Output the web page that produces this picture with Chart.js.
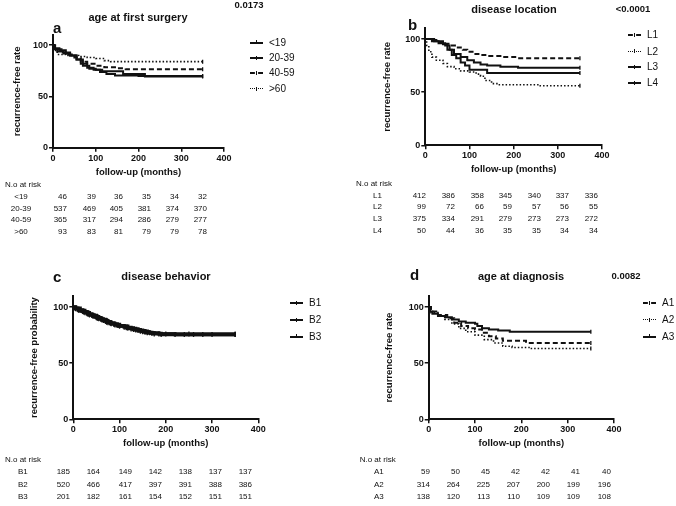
<!DOCTYPE html>
<html lang="en">
<head>
<meta charset="UTF-8">
<title>Recurrence-free survival</title>
<script src="https://cdn.jsdelivr.net/npm/chart.js"></script>
<style>
  body { margin: 0; background: #fff; }
  #page { position: relative; width: 676px; height: 506px; overflow: hidden;
          font-family: "Liberation Sans", Arial, sans-serif; color: #111; }
  #page canvas { position: absolute; left: 0; top: 0; }
  .t { position: absolute; white-space: nowrap; line-height: 1; }
  .title { font-weight: bold; font-size: 11px; }
  .letter { font-weight: bold; font-size: 15px; }
  .pval { font-weight: bold; font-size: 9.5px; }
  .leg { font-size: 10px; }
  .risk { font-size: 8px; }
  .sample { position: absolute; width: 13px; height: 0; }
  .mark { position: absolute; width: 1.3px; height: 4px; background: #111; }
</style>
</head>
<body>
<div id="page"></div>
<script>
// ---- data: survival curves [month, %] ----
// a: age at first surgery
const surgLt19 = [[0,100],[3,97],[15,95],[30,93],[40,90],[55,86],[70,80],[85,77],[100,76],[115,74.5],[164,72],[215,69.5],[350,69.5]];
const surg2039 = [[0,100],[3,96],[10,94],[25,92],[40,90],[55,86],[65,82],[80,78],[95,76],[110,74],[125,72],[145,70.5],[200,70],[350,70]];
const surg4059 = [[0,100],[5,96],[20,93],[35,91],[50,88],[65,84],[80,82],[100,80],[120,78.5],[150,77.5],[170,76.5],[350,76.5]];
const surgGt60 = [[0,100],[3,95],[10,91],[30,90],[60,89],[80,88],[100,87],[120,85],[135,84],[350,84]];
// b: disease location
const locL1 = [[0,100],[10,99],[25,97],[40,95.5],[55,94],[70,92],[85,90],[95,88],[110,86],[125,85],[140,84],[170,83],[210,82],[350,82]];
const locL2 = [[0,100],[3,94],[8,88],[15,83],[25,80],[40,77],[50,74],[65,72],[80,70],[100,69],[115,67],[125,65],[135,61],[150,58],[165,57],[260,56],[350,56]];
const locL3 = [[0,100],[15,98],[30,96],[45,94],[55,90],[65,86],[80,83],[95,80],[110,78],[125,76],[140,75],[170,74],[210,73],[350,73]];
const locL4 = [[0,100],[20,98],[40,95],[50,90],[60,85],[70,82],[80,78],[90,75],[100,71],[140,68],[350,68]];
// c: disease behavior
const behB1 = [[0,100],[5,99],[10,97.5],[20,96],[30,94],[40,92.5],[50,90.5],[60,89],[70,87],[80,85.5],[90,84],[100,83],[115,81.5],[130,80],[145,78.5],[160,77],[175,76],[220,75.5],[260,75.5],[300,75.5],[350,75.5]];
const behB2 = [[0,100],[5,98.5],[12,97],[22,95.5],[32,93.5],[42,92],[52,90],[62,88.5],[72,86.5],[82,85],[95,83.5],[110,82],[125,80.5],[140,79],[155,77.5],[170,76.5],[190,75.5],[240,75.5],[280,75.5],[350,75.5]];
const behB3 = [[0,100],[4,99],[15,97],[25,95],[35,93],[45,91.5],[55,89.5],[65,88],[75,86],[88,84.5],[100,83],[118,81],[135,79.5],[150,78],[165,77],[185,76],[200,76],[250,76],[350,76]];
// d: age at diagnosis
const diagA1 = [[0,100],[5,96],[20,93],[40,90],[55,86],[70,83],[85,81],[100,80],[115,77],[130,74],[145,72],[160,70],[210,68],[350,68]];
const diagA2 = [[0,100],[5,95],[20,92],[35,89],[50,85],[65,81],[80,78],[100,75],[120,71],[140,68],[160,65],[180,64],[220,63],[350,63]];
const diagA3 = [[0,100],[3,96],[8,94],[20,92],[35,91],[50,89],[65,87],[80,86],[100,85],[105,83],[115,81],[130,80],[150,79],[175,78],[350,78]];

// ---- numbers at risk ----
const riskLabelsA = ['<19', '20-39', '40-59', '>60'];
const riskA = [[46,39,36,35,34,32],[537,469,405,381,374,370],[365,317,294,286,279,277],[93,83,81,79,79,78]];
const riskLabelsB = ['L1', 'L2', 'L3', 'L4'];
const riskB = [[412,386,358,345,340,337,336],[99,72,66,59,57,56,55],[375,334,291,279,273,273,272],[50,44,36,35,35,34,34]];
const riskLabelsC = ['B1', 'B2', 'B3'];
const riskC = [[185,164,149,142,138,137,137],[520,466,417,397,391,388,386],[201,182,161,154,152,151,151]];
const riskLabelsD = ['A1', 'A2', 'A3'];
const riskD = [[59,50,45,42,42,41,40],[314,264,225,207,200,199,196],[138,120,113,110,109,109,108]];

const xTicks = [0, 100, 200, 300, 400];
const yTicks = [0, 50, 100];

const page = document.getElementById('page');

function put(text, x, y, cls, align) {
  const el = document.createElement('div');
  el.className = 't ' + cls;
  el.textContent = text;
  el.style.left = x + 'px';
  el.style.top = y + 'px';
  const tx = align === 'right' ? '-100%' : align === 'center' ? '-50%' : '0';
  el.style.transform = 'translate(' + tx + ',-50%)';
  page.appendChild(el);
}

const styles = {
  solid:  { dash: [],       width: 2,   css: 'solid' },
  dashed: { dash: [5, 3],   width: 2,   css: 'dashed' },
  dotted: { dash: [1.5, 2], width: 1.6, css: 'dotted' }
};

const panels = [
  { letter: 'a', title: 'age at first surgery', pval: '0.0173',
    area: { left: 53, right: 224, top: 35, bottom: 147.7 },
    yTitle: 'recurrence-free rate', yTitleX: 17, xTitleY: 172,
    titlePos: [138, 17], letterPos: [53, 27], pvalPos: [249, 5],
    legend: { x: 250, ys: [42.7, 58.3, 73.3, 89] },
    series: [
      { label: '<19', data: surgLt19, style: 'solid' },
      { label: '20-39', data: surg2039, style: 'solid' },
      { label: '40-59', data: surg4059, style: 'dashed' },
      { label: '>60', data: surgGt60, style: 'dotted' }
    ],
    risk: { labels: riskLabelsA, rows: riskA, head: [5, 185], labelX: 21, labelAlign: 'center',
            cols: [67, 96, 123, 151, 179, 207], ys: [197, 208.7, 220, 231.7] } },
  { letter: 'b', title: 'disease location', pval: '<0.0001',
    area: { left: 425.3, right: 602, top: 28.4, bottom: 145.3 },
    yTitle: 'recurrence-free rate', yTitleX: 387, xTitleY: 169,
    titlePos: [514, 9], letterPos: [408, 24], pvalPos: [633, 9],
    legend: { x: 628, ys: [35, 51.7, 67.3, 83.3] },
    series: [
      { label: 'L1', data: locL1, style: 'dashed' },
      { label: 'L2', data: locL2, style: 'dotted' },
      { label: 'L3', data: locL3, style: 'solid' },
      { label: 'L4', data: locL4, style: 'solid' }
    ],
    risk: { labels: riskLabelsB, rows: riskB, head: [356, 183.7], labelX: 373, labelAlign: 'left',
            cols: [426, 455, 484, 512, 541, 569, 598], ys: [196, 207.3, 219, 231] } },
  { letter: 'c', title: 'disease behavior', pval: '',
    area: { left: 73.3, right: 258.3, top: 295.8, bottom: 419.3 },
    yTitle: 'recurrence-free probability', yTitleX: 34, xTitleY: 443,
    titlePos: [166, 276], letterPos: [53, 276], pvalPos: [0, 0],
    legend: { x: 290, ys: [303.3, 320, 336.7] },
    lineWidth: 3.2, allTicks: true,
    series: [
      { label: 'B1', data: behB1, style: 'solid' },
      { label: 'B2', data: behB2, style: 'solid' },
      { label: 'B3', data: behB3, style: 'solid' }
    ],
    risk: { labels: riskLabelsC, rows: riskC, head: [5, 460], labelX: 18, labelAlign: 'left',
            cols: [70, 100, 132, 162, 192, 222, 252], ys: [472, 484.5, 497] } },
  { letter: 'd', title: 'age at diagnosis', pval: '0.0082',
    area: { left: 428.7, right: 614, top: 295.8, bottom: 419.3 },
    yTitle: 'recurrence-free rate', yTitleX: 389, xTitleY: 443,
    titlePos: [521, 276], letterPos: [410, 274], pvalPos: [626, 276],
    legend: { x: 643, ys: [303, 320, 336.7] },
    series: [
      { label: 'A1', data: diagA1, style: 'dashed' },
      { label: 'A2', data: diagA2, style: 'dotted' },
      { label: 'A3', data: diagA3, style: 'solid' }
    ],
    risk: { labels: riskLabelsD, rows: riskD, head: [359.7, 460], labelX: 374, labelAlign: 'left',
            cols: [430, 460, 490, 520, 550, 580, 611], ys: [472, 485, 497] } }
];

Chart.defaults.font.family = '"Liberation Sans", Arial, sans-serif';
Chart.defaults.color = '#111';

const axisFont = { size: 9.5, weight: 'bold' };
const lh = axisFont.size * 1.2;

panels.forEach(p => {
  const canvas = document.createElement('canvas');
  canvas.width = 676;
  canvas.height = 506;
  page.appendChild(canvas);

  const a = p.area;
  const wY = a.left - (p.yTitleX - lh / 2);
  const hX = (p.xTitleY + lh / 2) - a.bottom;

  new Chart(canvas, {
    type: 'line',
    data: {
      datasets: p.series.map(s => ({
        label: s.label,
        data: s.data.map(d => ({ x: d[0], y: d[1] })),
        stepped: true,
        fill: false,
        borderColor: '#111',
        borderWidth: p.lineWidth || styles[s.style].width,
        borderDash: styles[s.style].dash,
        pointStyle: 'line',
        rotation: 90,
        pointBorderColor: '#111',
        pointBorderWidth: 1.3,
        pointRadius: ctx => (p.allTicks ? 2.5 : (ctx.dataIndex === s.data.length - 1 ? 2 : 0))
      }))
    },
    options: {
      responsive: false,
      animation: false,
      events: [],
      layout: { padding: { left: a.left - wY, top: a.top, right: 676 - a.right, bottom: 506 - a.bottom - hX } },
      plugins: { legend: { display: false }, tooltip: { enabled: false } },
      scales: {
        x: {
          type: 'linear', min: 0, max: 400,
          afterBuildTicks: s => { s.ticks = xTicks.map(v => ({ value: v })); },
          afterFit: s => { s.height = hX; },
          ticks: { font: { size: 9, weight: 'bold' }, padding: 1, maxRotation: 0 },
          grid: { drawOnChartArea: false, drawTicks: true, tickLength: 4, color: '#111', lineWidth: 1.5 },
          border: { display: true, color: '#111', width: 2 },
          title: { display: true, text: 'follow-up (months)', font: axisFont, padding: 0 }
        },
        y: {
          type: 'linear', min: 0, max: 110,
          afterBuildTicks: s => { s.ticks = yTicks.map(v => ({ value: v })); },
          afterFit: s => { s.width = wY; },
          ticks: { font: { size: 9, weight: 'bold' }, padding: 1 },
          grid: { drawOnChartArea: false, drawTicks: true, tickLength: 4, color: '#111', lineWidth: 1.5 },
          border: { display: true, color: '#111', width: 2 },
          title: { display: true, text: p.yTitle, font: axisFont, padding: 0 }
        }
      }
    }
  });

  // headings
  put(p.title, p.titlePos[0], p.titlePos[1], 'title', 'center');
  put(p.letter, p.letterPos[0], p.letterPos[1], 'letter', 'left');
  if (p.pval) put(p.pval, p.pvalPos[0], p.pvalPos[1], 'pval', 'center');

  // legend
  p.series.forEach((s, i) => {
    const y = p.legend.ys[i];
    const line = document.createElement('div');
    line.className = 'sample';
    line.style.left = p.legend.x + 'px';
    line.style.top = (y - 1) + 'px';
    line.style.borderTop = (s.style === 'dotted' ? 1.6 : 2) + 'px ' + styles[s.style].css + ' #111';
    page.appendChild(line);
    const mk = document.createElement('div');
    mk.className = 'mark';
    mk.style.left = (p.legend.x + 6) + 'px';
    mk.style.top = (y - 2.5) + 'px';
    page.appendChild(mk);
    put(s.label, p.legend.x + 19, y, 'leg', 'left');
  });

  // numbers at risk
  const r = p.risk;
  put('N.o at risk', r.head[0], r.head[1], 'risk', 'left');
  r.labels.forEach((lab, i) => {
    put(lab, r.labelX, r.ys[i], 'risk', r.labelAlign);
    r.rows[i].forEach((v, j) => put(String(v), r.cols[j], r.ys[i], 'risk', 'right'));
  });
});
</script>
</body>
</html>
